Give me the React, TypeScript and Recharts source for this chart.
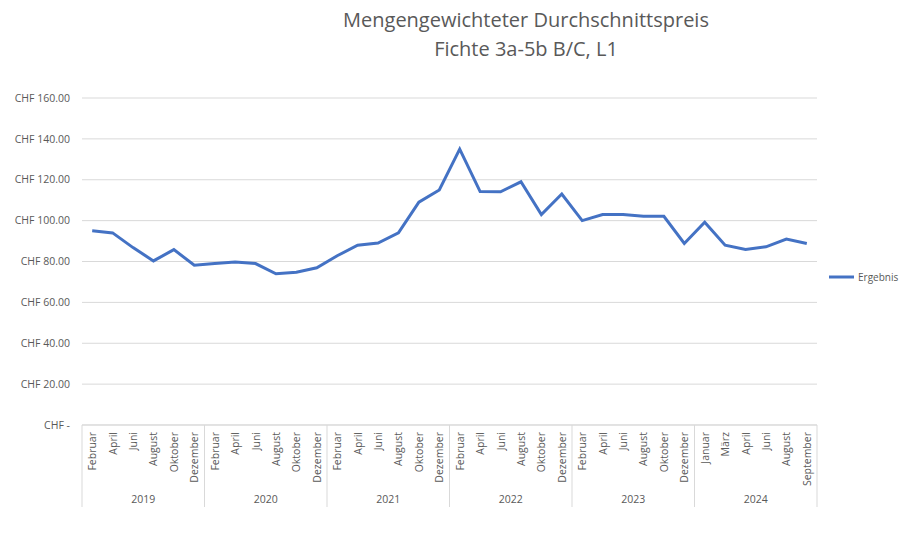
import React from "react";
import { LineChart, Line, XAxis, YAxis, CartesianGrid } from "recharts";

const years = ["2019", "2020", "2021", "2022", "2023", "2024"];
const monthsStd = ["Februar", "April", "Juni", "August", "Oktober", "Dezember"];
const months2024 = ["Januar", "März", "April", "Juni", "August", "September"];
const prices = [
  95, 94, 86.8, 80.3, 85.8, 78.2,
  79, 79.8, 79, 74, 74.7, 76.9,
  82.8, 88, 89, 94, 109, 115,
  135, 114.2, 114.1, 119, 103, 113,
  100, 103, 103, 102.2, 102.1, 88.8,
  99.2, 88, 85.9, 87.2, 91, 88.8,
];
const yTicks = [0, 20, 40, 60, 80, 100, 120, 140, 160];
const seriesName = "Ergebnis";

const monthLabels: string[] = years.flatMap((y) => (y === "2024" ? months2024 : monthsStd));
const data = monthLabels.map((m, i) => ({
  key: `${years[Math.floor(i / 6)]}-${m}`,
  month: m,
  year: years[Math.floor(i / 6)],
  value: prices[i],
}));

const FONT = "'Open Sans', sans-serif";
const TXT = "#595959";
const GRID = "#d9d9d9";

const MonthTick = (props: any) => {
  const { x, y, payload } = props;
  const i = payload.index as number;
  const half = payload.offset ?? 10.2;
  const els: React.ReactNode[] = [];
  els.push(
    <g key="t" transform={`translate(${x},${y + 7}) rotate(-90)`}>
      <text x={0} y={0} textAnchor="end" dominantBaseline="central" fill={TXT} fontSize={10.5} fontFamily={FONT}>
        {data[i].month}
      </text>
    </g>
  );
  if (i % 6 === 0) {
    els.push(<line key="s" x1={x - half} x2={x - half} y1={y} y2={y + 82} stroke={GRID} strokeWidth={1} />);
  }
  if (i === data.length - 1) {
    els.push(<line key="e" x1={x + half} x2={x + half} y1={y} y2={y + 82} stroke={GRID} strokeWidth={1} />);
  }
  if (i % 6 === 2) {
    els.push(
      <text key="y" x={x + half} y={y + 74} textAnchor="middle" dominantBaseline="central" fill={TXT} fontSize={10.5} fontFamily={FONT}>
        {data[i].year}
      </text>
    );
  }
  return <g>{els}</g>;
};

const fmt = (v: number) => (v === 0 ? "CHF -" : `CHF ${v.toFixed(2)}`);

export default function App() {
  return (
    <div style={{ position: "absolute", left: 0, top: 0, width: 900, height: 534, background: "#fff" }}>
      <div
        style={{
          position: "absolute",
          left: 276,
          width: 500,
          top: 5,
          textAlign: "center",
          fontFamily: FONT,
          fontSize: 20,
          lineHeight: "29px",
          color: TXT,
        }}
      >
        <div>Mengengewichteter Durchschnittspreis</div>
        <div>Fichte 3a-5b B/C, L1</div>
      </div>
      <LineChart width={900} height={534} data={data} margin={{ top: 98, right: 83, bottom: 9, left: 0 }}>
        <CartesianGrid vertical={false} stroke={GRID} strokeWidth={1} />
        <XAxis
          dataKey="key"
          scale="band"
          interval={0}
          height={100}
          axisLine={{ stroke: GRID }}
          tickLine={false}
          tickSize={0}
          tickMargin={0}
          tick={<MonthTick />}
        />
        <YAxis
          width={82}
          domain={[0, 160]}
          ticks={yTicks}
          axisLine={false}
          tickLine={false}
          tickSize={0}
          tickMargin={12}
          tickFormatter={fmt}
          tick={{ fill: TXT, fontSize: 10.5, fontFamily: FONT }}
        />
        <Line
          type="linear"
          dataKey="value"
          name={seriesName}
          stroke="#4472C4"
          strokeWidth={3}
          dot={false}
          isAnimationActive={false}
        />
      </LineChart>
      <div
        style={{
          position: "absolute",
          left: 829,
          top: 270,
          display: "flex",
          alignItems: "center",
          fontFamily: FONT,
          fontSize: 10,
          color: TXT,
          whiteSpace: "nowrap",
        }}
      >
        <svg width={26} height={6} style={{ marginRight: 3 }}>
          <line x1={0} x2={25} y1={3} y2={3} stroke="#4472C4" strokeWidth={3} />
        </svg>
        <span>{seriesName}</span>
      </div>
    </div>
  );
}
